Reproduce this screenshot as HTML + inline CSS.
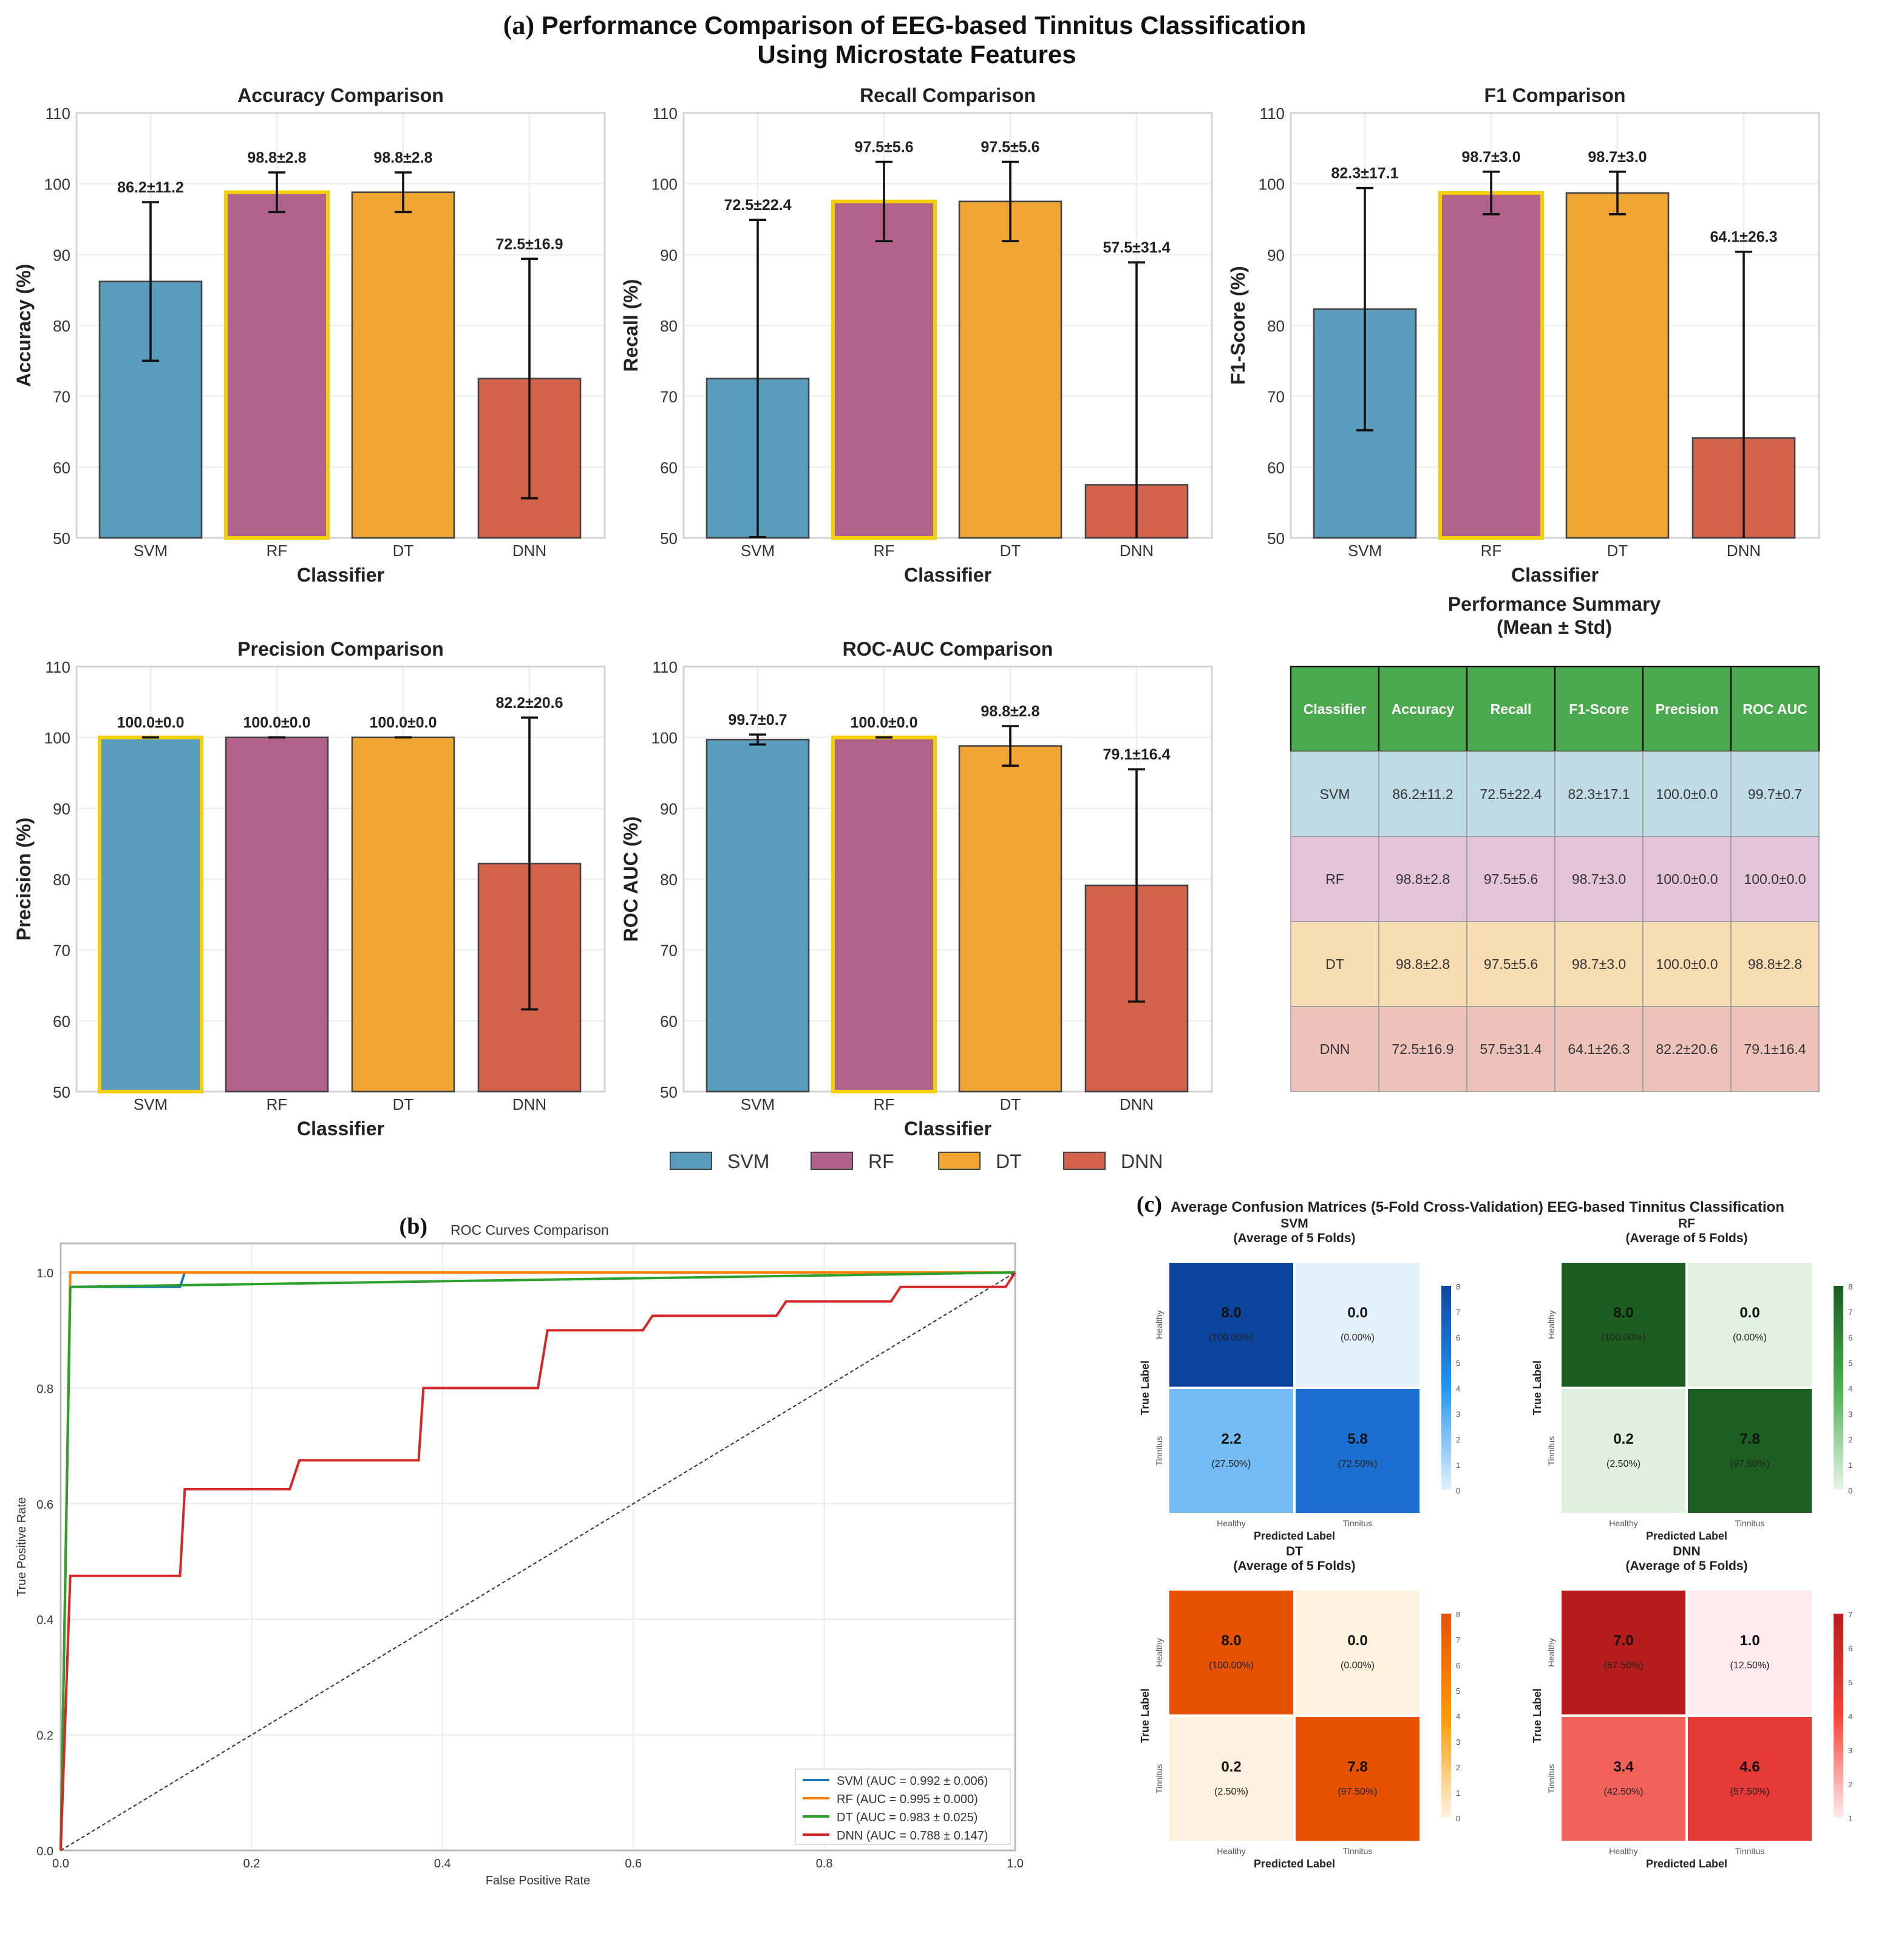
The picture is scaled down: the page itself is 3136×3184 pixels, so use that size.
<!DOCTYPE html>
<html><head><meta charset="utf-8">
<style>
html,body{margin:0;padding:0;background:#fff;}
svg{display:block;font-family:"Liberation Sans",sans-serif;}
</style></head>
<body>
<svg id="fig" width="3136" height="3184" viewBox="0 0 1568 1592" xmlns="http://www.w3.org/2000/svg">
<rect width="1568" height="1592" fill="#fff"/>
<text x="745" y="28" text-anchor="middle" font-size="21" font-weight="bold" fill="#111"><tspan font-family="Liberation Serif" font-size="22">(a)</tspan> Performance Comparison of EEG-based Tinnitus Classification</text>
<text x="755" y="52" text-anchor="middle" font-size="21" font-weight="bold" fill="#111">Using Microstate Features</text>
<g id="bars"></g>
<g id="table"></g>
<g id="roc"></g>
<g id="cm"></g>
</svg>
<script>
const NS="http://www.w3.org/2000/svg";
function mk(tag,attrs,parent,txt){const e=document.createElementNS(NS,tag);for(const k in attrs)e.setAttribute(k,attrs[k]);if(txt!==undefined)e.textContent=txt;parent.appendChild(e);return e;}

// ---- bar chart data ----
const classifiers=["SVM","RF","DT","DNN"];
const accMean=[86.2,98.8,98.8,72.5];
const accStd=[11.2,2.8,2.8,16.9];
const recMean=[72.5,97.5,97.5,57.5];
const recStd=[22.4,5.6,5.6,31.4];
const f1Mean=[82.3,98.7,98.7,64.1];
const f1Std=[17.1,3.0,3.0,26.3];
const preMean=[100.0,100.0,100.0,82.2];
const preStd=[0.0,0.0,0.0,20.6];
const aucMean=[99.7,100.0,98.8,79.1];
const aucStd=[0.7,0.0,2.8,16.4];
const yTicks=[50,60,70,80,90,100,110];
const barColors=["#5a9cbb","#b0628b","#f0a431","#d2634a"];

const panels=[
 {t:"Accuracy Comparison",yl:"Accuracy (%)",m:accMean,s:accStd,x0:63,y0:93,xl:true},
 {t:"Recall Comparison",yl:"Recall (%)",m:recMean,s:recStd,x0:563,y0:93,xl:true},
 {t:"F1 Comparison",yl:"F1-Score (%)",m:f1Mean,s:f1Std,x0:1063,y0:93,xl:true},
 {t:"Precision Comparison",yl:"Precision (%)",m:preMean,s:preStd,x0:63,y0:549,xl:true},
 {t:"ROC-AUC Comparison",yl:"ROC AUC (%)",m:aucMean,s:aucStd,x0:563,y0:549,xl:true}
];
const bg=document.getElementById("bars");
panels.forEach((p,pi)=>{
  const W=435,H=350;
  const g=mk("g",{},bg);
  
  
  const ys=v=>p.y0+H-(v-50)/60*H;
  const xs=i=>p.x0+61+i*104;
  const cid="clip"+pi;
  const cp=mk("clipPath",{id:cid},g);mk("rect",{x:p.x0,y:p.y0,width:W,height:H},cp);
  yTicks.forEach(t=>{mk("line",{x1:p.x0,x2:p.x0+W,y1:ys(t),y2:ys(t),stroke:"#ececec","stroke-width":1},g);
    const tl=mk("text",{x:p.x0-5,y:ys(t)+5,"text-anchor":"end","font-size":13,fill:"#333"},g,t);
    });
  classifiers.forEach((c,i)=>mk("line",{x1:xs(i),x2:xs(i),y1:p.y0,y2:p.y0+H,stroke:"#ececec"},g));
  mk("rect",{x:p.x0,y:p.y0,width:W,height:H,fill:"none",stroke:"#d4d4d4","stroke-width":1.5},g);
  let best=0;p.m.forEach((v,i)=>{if(v>p.m[best])best=i;});
  classifiers.forEach((c,i)=>{
    const top=ys(p.m[i]);
    const r=mk("rect",{x:xs(i)-42,y:top,width:84,height:p.y0+H-top,fill:barColors[i],stroke:i===best?"#f5d000":"#444","stroke-width":i===best?3:1.3},g);
    
    const hi=p.m[i]+p.s[i],lo=p.m[i]-p.s[i];
    const eg=mk("g",{"clip-path":"url(#"+cid+")",stroke:"#111","stroke-width":1.8},g);
    
    mk("line",{x1:xs(i),x2:xs(i),y1:ys(hi),y2:ys(lo)},eg);
    mk("line",{x1:xs(i)-7,x2:xs(i)+7,y1:ys(hi),y2:ys(hi)},eg);
    mk("line",{x1:xs(i)-7,x2:xs(i)+7,y1:ys(lo),y2:ys(lo)},eg);
    const vl=mk("text",{x:xs(i),y:ys(hi)-8,"text-anchor":"middle","font-size":12.5,"font-weight":"bold",fill:"#222"},g,p.m[i].toFixed(1)+"±"+p.s[i].toFixed(1));
    
    const xl=mk("text",{x:xs(i),y:p.y0+H+15,"text-anchor":"middle","font-size":13,fill:"#333"},g,c);
    
  });
  const tt=mk("text",{x:p.x0+W/2,y:p.y0-9,"text-anchor":"middle","font-size":16,"font-weight":"bold",fill:"#222"},g,p.t);
  
  const xa=mk("text",{x:p.x0+W/2,y:p.y0+H+36,"text-anchor":"middle","font-size":16,"font-weight":"bold",fill:"#222"},g,"Classifier");
  
  const ya=mk("text",{transform:`translate(${p.x0-38},${p.y0+H/2}) rotate(-90)`,"text-anchor":"middle","font-size":16,"font-weight":"bold",fill:"#222"},g,p.yl);
  
});
// legend
const lgX=[552,668,773,876];
classifiers.forEach((c,i)=>{
  const r=mk("rect",{x:lgX[i],y:949,width:34,height:14,fill:barColors[i],stroke:"#444"},bg);
  
  const t=mk("text",{x:lgX[i]+47,y:962,"font-size":16,fill:"#333"},bg,c);
  
});

// ---- table ----
const tableHeader=["Classifier","Accuracy","Recall","F1-Score","Precision","ROC AUC"];
const tableRows=[
 ["SVM","86.2±11.2","72.5±22.4","82.3±17.1","100.0±0.0","99.7±0.7"],
 ["RF","98.8±2.8","97.5±5.6","98.7±3.0","100.0±0.0","100.0±0.0"],
 ["DT","98.8±2.8","97.5±5.6","98.7±3.0","100.0±0.0","98.8±2.8"],
 ["DNN","72.5±16.9","57.5±31.4","64.1±26.3","82.2±20.6","79.1±16.4"]];
const rowColors=["#bfdbe6","#e3c3d8","#f8dcb2","#ecc2ba"];
const tg=document.getElementById("table");
mk("text",{x:1280,y:503,"text-anchor":"middle","font-size":16,"font-weight":"bold",fill:"#222"},tg,"Performance Summary");
mk("text",{x:1280,y:522,"text-anchor":"middle","font-size":16,"font-weight":"bold",fill:"#222"},tg,"(Mean ± Std)");
const cw=72.5,tx=1063;
tableHeader.forEach((h,j)=>{
  mk("rect",{x:tx+j*cw,y:549,width:cw,height:70,fill:"#4aaa4d",stroke:"#111","stroke-width":1.2},tg);
  const t=mk("text",{x:tx+j*cw+cw/2,y:588,"text-anchor":"middle","font-size":11.5,"font-weight":"bold",fill:"#fff"},tg,h);
  
});
tableRows.forEach((row,i)=>{row.forEach((v,j)=>{
  mk("rect",{x:tx+j*cw,y:619+i*70,width:cw,height:70,fill:rowColors[i],stroke:"#999","stroke-width":0.8},tg);
  const t=mk("text",{x:tx+j*cw+cw/2,y:658+i*70,"text-anchor":"middle","font-size":11.5,fill:"#333"},tg,v);
  
});});

// ---- ROC ----
const rocX=[0,0.2,0.4,0.6,0.8,1.0];
const rocY=[0,0.2,0.4,0.6,0.8,1.0];
const svmFpr=[0,0.01,0.125,0.13,1];
const svmTpr=[0,0.975,0.975,1,1];
const rfFpr=[0,0.01,1];
const rfTpr=[0,1,1];
const dtFpr=[0,0.01,1];
const dtTpr=[0,0.975,1];
const dnnFpr=[0,0.01,0.125,0.13,0.24,0.25,0.375,0.38,0.5,0.51,0.61,0.62,0.75,0.76,0.87,0.88,0.99,1];
const dnnTpr=[0,0.475,0.475,0.625,0.625,0.675,0.675,0.8,0.8,0.9,0.9,0.925,0.925,0.95,0.95,0.975,0.975,1];
const rocLabels=["SVM (AUC = 0.992 ± 0.006)","RF (AUC = 0.995 ± 0.000)","DT (AUC = 0.983 ± 0.025)","DNN (AUC = 0.788 ± 0.147)"];
const rocColors=["#1f77b4","#ff7f0e","#2ca02c","#d62728"];
const rg=document.getElementById("roc");
const rx=v=>50+v*786, ry=v=>1524-v*476;
rocY.forEach(t=>{mk("line",{x1:50,x2:836,y1:ry(t),y2:ry(t),stroke:"#ececec"},rg);
  mk("text",{x:44,y:ry(t)+4,"text-anchor":"end","font-size":10,fill:"#333"},rg,t.toFixed(1));});
rocX.forEach(t=>{mk("line",{x1:rx(t),x2:rx(t),y1:1024,y2:1524,stroke:"#ececec"},rg);
  mk("text",{x:rx(t),y:1538,"text-anchor":"middle","font-size":10,fill:"#333"},rg,t.toFixed(1));});
mk("rect",{x:50,y:1024,width:786,height:500,fill:"none",stroke:"#bbb","stroke-width":1.5},rg);
mk("line",{x1:rx(0),y1:ry(0),x2:rx(1),y2:ry(1),stroke:"#333","stroke-dasharray":"3,2","stroke-width":1},rg);
[[svmFpr,svmTpr],[rfFpr,rfTpr],[dtFpr,dtTpr],[dnnFpr,dnnTpr]].forEach((s,k)=>{
  const pts=s[0].map((f,i)=>rx(f)+","+ry(s[1][i])).join(" ");
  const pl=mk("polyline",{points:pts,fill:"none",stroke:rocColors[k],"stroke-width":2},rg);
  
});
mk("text",{x:352,y:1016,"text-anchor":"end","font-size":19,"font-weight":"bold","font-family":"Liberation Serif",fill:"#111"},rg,"(b)");
mk("text",{x:371,y:1017,"font-size":11.5,fill:"#333"},rg,"ROC Curves Comparison");
mk("text",{x:443,y:1552,"text-anchor":"middle","font-size":10,fill:"#333"},rg,"False Positive Rate");
mk("text",{transform:"translate(21,1274) rotate(-90)","text-anchor":"middle","font-size":10,fill:"#333"},rg,"True Positive Rate");
mk("rect",{x:655,y:1457,width:177,height:62,fill:"#fff",stroke:"#ddd"},rg);
rocLabels.forEach((l,k)=>{
  mk("line",{x1:661,x2:683,y1:1466+k*15,y2:1466+k*15,stroke:rocColors[k],"stroke-width":2},rg);
  const t=mk("text",{x:689,y:1470+k*15,"font-size":10,fill:"#333"},rg,l);
  
});

// ---- confusion matrices ----
const cmNames=["SVM","RF","DT","DNN"];
const cmValues=[[8.0,0.0,2.2,5.8],[8.0,0.0,0.2,7.8],[8.0,0.0,0.2,7.8],[7.0,1.0,3.4,4.6]];
const cmPct=[["100.00%","0.00%","27.50%","72.50%"],["100.00%","0.00%","2.50%","97.50%"],["100.00%","0.00%","2.50%","97.50%"],["87.50%","12.50%","42.50%","57.50%"]];
const cmColors=[["#0b459e","#e3f1fc","#74bcf4","#1a6fd0"],["#1b5e20","#e1f1df","#dff0dc","#1c5f20"],["#e65100","#fff2df","#fff1de","#e65100"],["#b71c1c","#ffebee","#f3625a","#e53935"]];
const cbTicks=[[0,1,2,3,4,5,6,7,8],[0,1,2,3,4,5,6,7,8],[0,1,2,3,4,5,6,7,8],[1,2,3,4,5,6,7]];
const cbGrad=[["#e3f2fd","#2196f3","#0d47a1"],["#e8f5e9","#4caf50","#1b5e20"],["#fff3e0","#ff9800","#e65100"],["#ffebee","#f44336","#b71c1c"]];
const cg=document.getElementById("cm");
mk("text",{x:957,y:998,"text-anchor":"end","font-size":19,"font-weight":"bold","font-family":"Liberation Serif",fill:"#111"},cg,"(c)");
mk("text",{x:964,y:998,"font-size":12,"font-weight":"bold",fill:"#222"},cg,"Average Confusion Matrices (5-Fold Cross-Validation) EEG-based Tinnitus Classification");
const defs=mk("defs",{},cg);
const ox=[962,1285,962,1285],oy=[1039,1039,1309,1309];
cmNames.forEach((n,k)=>{
  const g=mk("g",{},cg);
  
  const x0=ox[k],y0=oy[k];
  mk("text",{x:x0+104,y:y0-28,"text-anchor":"middle","font-size":10.5,"font-weight":"bold",fill:"#222"},g,n);
  mk("text",{x:x0+104,y:y0-16,"text-anchor":"middle","font-size":10.5,"font-weight":"bold",fill:"#222"},g,"(Average of 5 Folds)");
  for(let c=0;c<4;c++){
    const cx=x0+(c%2)*104,cy=y0+Math.floor(c/2)*104;
    const r=mk("rect",{x:cx,y:cy,width:104,height:104,fill:cmColors[k][c],stroke:"#fff","stroke-width":2},g);
    
    mk("text",{x:cx+52,y:cy+46,"text-anchor":"middle","font-size":12,"font-weight":"bold",fill:"#111"},g,cmValues[k][c].toFixed(1));
    mk("text",{x:cx+52,y:cy+65,"text-anchor":"middle","font-size":8,fill:"#222"},g,"("+cmPct[k][c]+")");
  }
  mk("text",{x:x0+52,y:y0+218,"text-anchor":"middle","font-size":7,fill:"#555"},g,"Healthy");
  mk("text",{x:x0+156,y:y0+218,"text-anchor":"middle","font-size":7,fill:"#555"},g,"Tinnitus");
  mk("text",{x:x0+104,y:y0+229,"text-anchor":"middle","font-size":9,"font-weight":"bold",fill:"#222"},g,"Predicted Label");
  mk("text",{transform:`translate(${x0-5},${y0+52}) rotate(-90)`,"text-anchor":"middle","font-size":7,fill:"#555"},g,"Healthy");
  mk("text",{transform:`translate(${x0-5},${y0+156}) rotate(-90)`,"text-anchor":"middle","font-size":7,fill:"#555"},g,"Tinnitus");
  mk("text",{transform:`translate(${x0-16},${y0+104}) rotate(-90)`,"text-anchor":"middle","font-size":9,"font-weight":"bold",fill:"#222"},g,"True Label");
  const gr=mk("linearGradient",{id:"cb"+k,x1:0,y1:1,x2:0,y2:0},defs);
  cbGrad[k].forEach((col,i)=>mk("stop",{offset:i/2,"stop-color":col},gr));
  const bx=x0+225,by=y0+20,bh=168;
  const cb=mk("rect",{x:bx,y:by,width:8,height:bh,fill:"url(#cb"+k+")"},g);
  
  const tk=cbTicks[k],lo=tk[0],hi=tk[tk.length-1];
  tk.forEach(t=>mk("text",{x:bx+12,y:by+bh-(t-lo)/(hi-lo)*bh+3,"font-size":6.5,fill:"#555"},g,t));
});
</script>
</body></html>
